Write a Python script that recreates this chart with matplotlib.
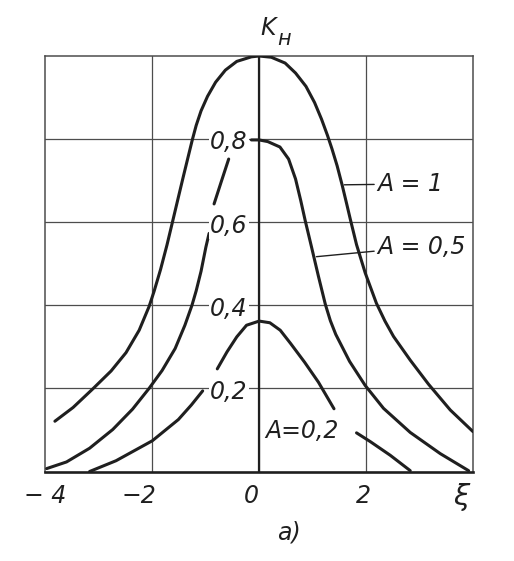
import matplotlib
matplotlib.use("Agg")
import matplotlib.pyplot as plt
import numpy as np

# ---------------- data ----------------
nan = np.nan

xi_A1 = [-3.815, -3.476, -3.106, -2.765, -2.487, -2.241, -2.056, -1.964, -1.842,
         -1.722, -1.618, -1.509, -1.418, -1.327, -1.249, -1.176, -1.085, -0.964,
         -0.813, -0.631, -0.418, -0.145, 0.0, 0.227, 0.485, 0.680, 0.874, 1.035,
         1.165, 1.276, 1.359, 1.456, 1.553, 1.637, 1.703, 1.819, 1.981, 2.190,
         2.350, 2.510, 2.822, 3.164, 3.570, 3.994]
K_A1 = [0.121, 0.154, 0.199, 0.242, 0.286, 0.340, 0.397, 0.433, 0.486,
        0.545, 0.601, 0.660, 0.709, 0.757, 0.798, 0.833, 0.868, 0.903,
        0.937, 0.966, 0.987, 0.998, 1.000, 0.997, 0.983, 0.959, 0.927, 0.888,
        0.848, 0.809, 0.777, 0.736, 0.688, 0.643, 0.607, 0.546, 0.478, 0.405,
        0.362, 0.325, 0.268, 0.210, 0.148, 0.096]

xi_A05 = [-3.969, -3.598, -3.167, -2.735, -2.365, -2.056, -1.813, -1.569, -1.387,
          -1.255, -1.176, -1.085, -0.995, -0.935, nan,
          -0.842, -0.709, -0.569, nan,
          -0.145, 0.0, 0.161, 0.388, 0.550, 0.680, 0.777, 0.860, 0.977, 1.107,
          1.237, 1.330, 1.431, 1.689, 1.981, 2.323, 2.822, 3.383, 3.912]
K_A05 = [0.007, 0.023, 0.056, 0.101, 0.150, 0.200, 0.243, 0.296, 0.352,
         0.400, 0.435, 0.482, 0.540, 0.573, nan,
         0.644, 0.697, 0.752, nan,
         0.798, 0.798, 0.794, 0.781, 0.752, 0.704, 0.652, 0.604, 0.541, 0.470,
         0.402, 0.363, 0.330, 0.265, 0.207, 0.152, 0.094, 0.043, 0.002]

xi_A02 = [-3.167, -2.672, -1.995, -1.509, -1.267, -1.055, nan,
          -0.782, -0.600, -0.418, -0.236, 0.0, 0.200, 0.394, 0.588, 0.849, 1.107,
          1.398, nan,
          1.819, 2.075, 2.449, 2.822]
K_A02 = [0.000, 0.026, 0.074, 0.125, 0.160, 0.194, nan,
         0.247, 0.288, 0.324, 0.352, 0.362, 0.358, 0.340, 0.308, 0.263, 0.215,
         0.151, nan,
         0.093, 0.072, 0.039, 0.002]

x_grid = [-2, 0, 2]
y_grid = [0.2, 0.4, 0.6, 0.8]
ytick_labels = ["0,2", "0,4", "0,6", "0,8"]
xtick_pos = [-4, -2, 0, 2]
xtick_labels = ["\u2212 4", "\u22122", "0", "2"]

series_labels = ["A = 1", "A = 0,5", "A=0,2"]

# ---------------- figure ----------------
INK = "#1f1f1f"
GRID = "#4d4d4d"
plt.rcParams["font.family"] = ["DejaVu Sans"]

fig = plt.figure(figsize=(5.14, 5.61), dpi=100, facecolor="white")
ax = fig.add_axes([45 / 514, 1 - 471.5 / 561, (473.3 - 45) / 514, (471.5 - 56) / 561])
ax.set_xlim(-4, 4)
ax.set_ylim(0, 1)
ax.set_facecolor("white")

ax.set_xticks(x_grid)
ax.set_yticks(y_grid)
ax.tick_params(length=0, labelbottom=False, labelleft=False)
ax.grid(True, color=GRID, lw=0.9)
ax.set_axisbelow(True)
for side, sp in ax.spines.items():
    sp.set_color(GRID)
    sp.set_linewidth(1.1)
ax.spines["bottom"].set_color(INK)
ax.spines["bottom"].set_linewidth(1.9)
ax.axvline(0, color=INK, lw=1.6, zorder=2)

line_kw = dict(color=INK, lw=2.2, solid_capstyle="round", solid_joinstyle="round", zorder=4)
ax.plot(xi_A1, K_A1, **line_kw)
ax.plot(xi_A05, K_A05, **line_kw)
ax.plot(xi_A02, K_A02, **line_kw)

txt_kw = dict(color=INK, style="italic", fontsize=17)

# value labels inside the plot, masking the grid lines
for v, s in zip(y_grid, ytick_labels):
    ax.text(-0.22, v - 0.008, s, ha="right", va="center", zorder=5,
            bbox=dict(boxstyle="square,pad=0.05", fc="white", ec="none"), **txt_kw)

# x tick labels
xoff = {-4: 0.0, -2: -0.24, 0: -0.14, 2: -0.05}
for p, s in zip(xtick_pos, xtick_labels):
    ax.text(p + xoff[p], -0.059, s, ha="center", va="center", clip_on=False, **txt_kw)
ax.text(3.78, -0.062, "\u03be", ha="center", va="center", clip_on=False,
        color=INK, style="italic", fontsize=21)
ax.text(0.56, -0.148, "a)", ha="center", va="center", clip_on=False, **txt_kw)

# axis title K_н
ax.text(0.16, 1.068, "K", ha="center", va="center", clip_on=False,
        color=INK, style="italic", fontsize=17)
ax.text(0.46, 1.040, "н", ha="center", va="center", clip_on=False,
        color=INK, style="italic", fontsize=15)

# curve labels with leader lines
ax.annotate(series_labels[0], xy=(1.59, 0.69), xytext=(2.2, 0.692),
            ha="left", va="center", zorder=5,
            arrowprops=dict(arrowstyle="-", color=INK, lw=1.0,
                            shrinkA=0, shrinkB=0), **txt_kw)
ax.annotate(series_labels[1], xy=(1.07, 0.517), xytext=(2.2, 0.541),
            ha="left", va="center", zorder=5,
            arrowprops=dict(arrowstyle="-", color=INK, lw=1.0,
                            shrinkA=0, shrinkB=0), **txt_kw)
ax.text(0.11, 0.097, series_labels[2], ha="left", va="center", zorder=5, **txt_kw)

fig.savefig("out.png", dpi=100, facecolor="white")
